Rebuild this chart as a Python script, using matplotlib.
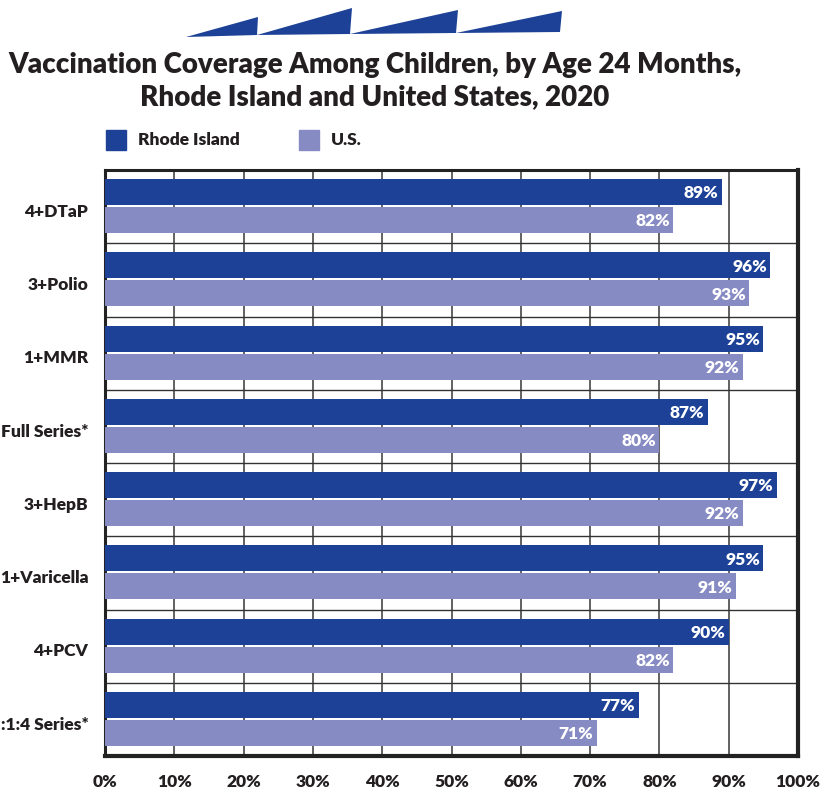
import matplotlib
matplotlib.use("Agg")
import matplotlib.pyplot as plt
from matplotlib.patches import Polygon
import numpy as np

categories = ["4+DTaP", "3+Polio", "1+MMR", "Full Series*", "3+HepB",
              "1+Varicella", "4+PCV", ":1:4 Series*"]
ri_values = [89, 96, 95, 87, 97, 95, 90, 77]
us_values = [82, 93, 92, 80, 92, 91, 82, 71]
x_ticks = [0, 10, 20, 30, 40, 50, 60, 70, 80, 90, 100]
x_tick_labels = [f"{t}%" for t in x_ticks]
series_names = ["Rhode Island", "U.S."]

RI_COLOR = "#1C4196"
US_COLOR = "#878BC3"
TXT = "#231F20"
FONT = "Lato"
WT = "heavy"

W, H = 821, 796
fig = plt.figure(figsize=(W / 100, H / 100), dpi=100)

def fx(px):
    return px / W

def fy(py):
    return 1 - py / H

ax = fig.add_axes([fx(105), fy(756), fx(798) - fx(105), fy(170) - fy(756)])
n = len(categories)
ax.set_xlim(0, 100)
ax.set_ylim(n, 0)

pos = np.arange(n)
bar_h = 26 / 73.25
top_gap = 9 / 73.25
ri_y = pos + top_gap + bar_h / 2
us_y = ri_y + bar_h + 2 / 73.25

ax.barh(ri_y, ri_values, height=bar_h, color=RI_COLOR, zorder=3)
ax.barh(us_y, us_values, height=bar_h, color=US_COLOR, zorder=3)

for y, v in zip(ri_y, ri_values):
    ax.text(v - 0.5, y + 0.02, f"{v}%", ha="right", va="center", color="white",
            fontsize=12.5, fontweight=WT, family=FONT, zorder=4)
for y, v in zip(us_y, us_values):
    ax.text(v - 0.5, y + 0.02, f"{v}%", ha="right", va="center", color="white",
            fontsize=12.5, fontweight=WT, family=FONT, zorder=4)

# grid
for t in x_ticks[1:-1]:
    ax.axvline(t, color="#555555", lw=1.3, zorder=1)
for b in range(1, n):
    ax.axhline(b, color="#333333", lw=1.0, zorder=1)

ax.set_xticks(x_ticks)
ax.set_xticklabels(x_tick_labels, fontsize=12.5, fontweight=WT,
                   family=FONT, color=TXT)
ax.tick_params(axis="x", length=0, pad=13)
ax.set_yticks(pos + 0.55)
ax.set_yticklabels(categories, fontsize=12.5, fontweight=WT,
                   family=FONT, color=TXT)
ax.tick_params(axis="y", length=0, pad=12)
for s in ax.spines.values():
    s.set_color("#222222")
    s.set_linewidth(2.2)
ax.spines["right"].set_linewidth(3)
ax.spines["bottom"].set_linewidth(3)

# title
fig.text(fx(375), fy(65), "Vaccination Coverage Among Children, by Age 24 Months,",
         ha="center", va="center", fontsize=20, fontweight=WT,
         family=FONT, color=TXT)
fig.text(fx(375), fy(97), "Rhode Island and United States, 2020",
         ha="center", va="center", fontsize=20, fontweight=WT,
         family=FONT, color=TXT)

# legend
for (x0, name, col) in [(106, series_names[0], RI_COLOR), (299, series_names[1], US_COLOR)]:
    fig.patches.append(plt.Rectangle((fx(x0), fy(150)), fx(20), fy(130) - fy(150),
                                     transform=fig.transFigure, color=col))
    fig.text(fx(x0 + 32), fy(140), name, ha="left", va="center", fontsize=12.5,
             fontweight=WT, family=FONT, color=TXT)

# decorative banner
shapes = [
    [(186, 37), (258, 17), (257, 35)],
    [(257, 35), (352, 8), (350, 34)],
    [(350, 34), (458, 10), (456, 33)],
    [(456, 33), (562, 11), (560, 32)],
]
for sh in shapes:
    pts = [(fx(x), fy(y)) for x, y in sh]
    fig.patches.append(Polygon(pts, closed=True, transform=fig.transFigure,
                               color=RI_COLOR, lw=0))

fig.savefig("out.png", dpi=100)
